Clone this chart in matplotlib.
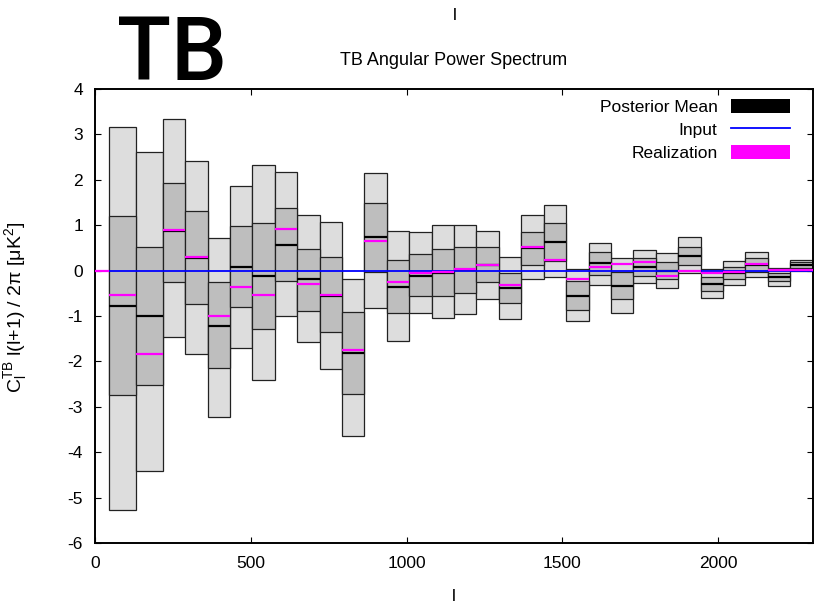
import numpy as np
import matplotlib
matplotlib.use('Agg')
import matplotlib.pyplot as plt
from matplotlib.patches import Patch
from matplotlib.lines import Line2D

plt.rcParams['font.family'] = ['Liberation Sans', 'DejaVu Sans']
plt.rcParams['mathtext.fontset'] = 'custom'
plt.rcParams['mathtext.rm'] = 'Liberation Sans'
plt.rcParams['mathtext.it'] = 'Liberation Sans'
plt.rcParams['axes.unicode_minus'] = False

# multipole bin edges (first bin 0-43 only carries the realization)
edges = [0, 43, 129, 216, 288, 360, 432, 504, 576, 648, 720, 792, 864, 936,
         1008, 1080, 1152, 1224, 1296, 1368, 1440, 1512, 1584, 1656, 1728,
         1800, 1872, 1944, 2016, 2088, 2160, 2232, 2304]

nan = np.nan
# posterior: 2-sigma / 1-sigma bands and mean, per bin
outer_hi = [nan, 3.16, 2.61, 3.33, 2.42, 0.72, 1.86, 2.33, 2.17, 1.22, 1.07,
            -0.18, 2.16, 0.87, 0.86, 1.01, 1.01, 0.87, 0.29, 1.22, 1.45,
            0.04, 0.61, 0.27, 0.46, 0.39, 0.75, 0.04, 0.21, 0.40, 0.05, 0.23]
inner_hi = [nan, 1.20, 0.52, 1.93, 1.31, -0.25, 0.99, 1.04, 1.37, 0.48, 0.30,
            -0.91, 1.49, 0.23, 0.37, 0.48, 0.53, 0.51, -0.05, 0.86, 1.05,
            -0.24, 0.41, -0.04, 0.27, 0.18, 0.53, -0.15, 0.09, 0.27, -0.05, 0.18]
post_mean = [nan, -0.79, -1.01, 0.87, 0.27, -1.21, 0.09, -0.11, 0.57, -0.19, -0.55,
             -1.82, 0.73, -0.36, -0.11, -0.06, 0.01, 0.12, -0.38, 0.50, 0.63,
             -0.55, 0.17, -0.34, 0.08, 0.00, 0.33, -0.29, -0.05, 0.12, -0.14, 0.12]
inner_lo = [nan, -2.75, -2.51, -0.25, -0.74, -2.14, -0.81, -1.29, -0.23, -0.88, -1.35,
            -2.72, -0.03, -0.93, -0.57, -0.57, -0.49, -0.26, -0.71, 0.13, 0.21,
            -0.86, -0.10, -0.63, -0.11, -0.19, 0.12, -0.45, -0.19, -0.03, -0.22, 0.06]
outer_lo = [nan, -5.27, -4.41, -1.46, -1.83, -3.22, -1.70, -2.42, -1.01, -1.57, -2.16,
            -3.64, -0.82, -1.56, -0.94, -1.05, -0.96, -0.62, -1.06, -0.19, -0.15,
            -1.12, -0.32, -0.93, -0.28, -0.38, -0.06, -0.61, -0.32, -0.15, -0.33, 0.00]
# realization, per bin
realization = [0.0, -0.54, -1.83, 0.89, 0.29, -1.01, -0.37, -0.53, 0.91, -0.29, -0.54,
               -1.76, 0.65, -0.26, -0.05, -0.04, 0.04, 0.12, -0.32, 0.52, 0.24,
               -0.18, 0.07, 0.15, 0.18, -0.11, 0.00, -0.06, -0.04, 0.14, 0.02, 0.02]
# input spectrum
input_l = [0, 2304]
input_cl = [0.0, 0.0]

left = np.array(edges[:-1], dtype=float)
right = np.array(edges[1:], dtype=float)
width = right - left
outer_hi = np.array(outer_hi); outer_lo = np.array(outer_lo)
inner_hi = np.array(inner_hi); inner_lo = np.array(inner_lo)
post_mean = np.array(post_mean)
ok = ~np.isnan(post_mean)

fig = plt.figure(figsize=(8.14, 6.02), dpi=100)
ax = fig.add_axes([0.1173, 0.098, 0.881, 0.7542])

ax.bar(left[ok], (outer_hi - outer_lo)[ok], width[ok], bottom=outer_lo[ok], align='edge',
       color='#dddddd', edgecolor='#222222', linewidth=0.9, zorder=1)
ax.bar(left[ok], (inner_hi - inner_lo)[ok], width[ok], bottom=inner_lo[ok], align='edge',
       color='#bebebe', edgecolor='#222222', linewidth=0.9, zorder=2)
ax.hlines(post_mean[ok], left[ok], right[ok], color='black', lw=1.6, zorder=3)
ax.plot(input_l, input_cl, color='#0000ff', lw=1.3, zorder=4)
ax.hlines(realization, left, right, color='#ff00ff', lw=1.6, zorder=5)

ax.set_xlim(0, 2304)
ax.set_ylim(-6, 4)
ax.set_xticks([0, 500, 1000, 1500, 2000])
ax.set_yticks(range(-6, 5))
ax.tick_params(direction='in', top=True, right=True, length=4.5, width=0.8,
               labelsize=12.5, pad=9)
for s in ax.spines.values():
    s.set_linewidth(1.4)

ax.set_title('TB Angular Power Spectrum', fontsize=13, pad=17)
ax.set_xlabel('l', fontsize=12.5, labelpad=13)
ax.set_ylabel(r'$\mathregular{C_l^{TB}}$ l(l+1) / 2π [μK$\mathregular{^2}$]', fontsize=14)
ax.yaxis.set_label_coords(-0.093, 0.52)
fig.text(455 / 814, 1 - 15 / 602, 'l', fontsize=12.5, ha='center', va='center')
fig.text(172 / 814, 1 - 55 / 602, 'TB', fontsize=64, fontweight='medium', ha='center', va='center',
         family=['Roboto', 'DejaVu Sans'])

handles = [Patch(facecolor='black'), Line2D([], [], color='#0000ff', lw=1.3),
           Patch(facecolor='#ff00ff')]
ax.legend(handles, ['Posterior Mean', 'Input', 'Realization'], loc='upper right',
          bbox_to_anchor=(0.968, 0.978), frameon=False, markerfirst=False,
          borderaxespad=0, borderpad=0, handlelength=3.4, handleheight=0.86,
          handletextpad=0.75, labelspacing=0.4, fontsize=12.5)

fig.savefig('out.png', dpi=100)
